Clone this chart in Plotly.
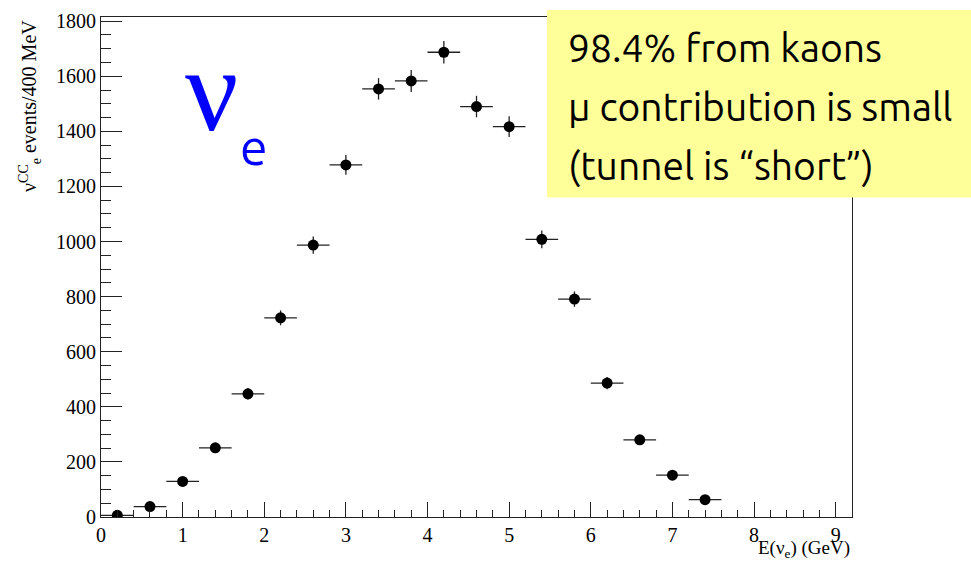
import plotly.graph_objects as go

# Data
energy = [0.2, 0.6, 1.0, 1.4, 1.8, 2.2, 2.6, 3.0, 3.4, 3.8, 4.2, 4.6, 5.0, 5.4, 5.8, 6.2, 6.6, 7.0, 7.4]
events = [6, 38, 129, 251, 447, 723, 987, 1278, 1554, 1583, 1687, 1490, 1417, 1008, 791, 486, 280, 152, 63]
err_events = [2, 6, 11, 16, 21, 27, 31, 36, 39, 40, 41, 39, 38, 32, 28, 22, 17, 12, 8]
half_bin = [0.2] * len(energy)

x_ticks = [0, 1, 2, 3, 4, 5, 6, 7, 8, 9]
y_ticks = [0, 200, 400, 600, 800, 1000, 1200, 1400, 1600, 1800]

box_lines = ["98.4% from kaons", "μ contribution is small", "(tunnel is “short”)"]

W, H = 971, 561
L, R, T, B = 101, 119, 10, 44
PW, PH = W - L - R, H - T - B


def px(xpix):
    return (xpix - L) / PW


def py(ypix):
    return (H - B - ypix) / PH


fig = go.Figure()
fig.add_trace(go.Scatter(
    x=energy, y=events, mode="markers",
    marker=dict(color="black", size=11, symbol="circle"),
    error_x=dict(type="data", array=half_bin, symmetric=True, width=0, thickness=1.3, color="#222"),
    error_y=dict(type="data", array=err_events, symmetric=True, width=0, thickness=1.3, color="#222"),
    showlegend=False, hoverinfo="x+y",
))

axis_common = dict(
    showgrid=False, zeroline=False, showline=True, linecolor="#222", linewidth=1,
    mirror=True, ticks="inside", tickcolor="#222", tickwidth=1,
    tickfont=dict(family="Liberation Serif", size=20, color="black"),
)

fig.update_xaxes(range=[0, 9.2], tickvals=x_ticks, ticktext=[str(v) for v in x_ticks], ticklen=15,
                 minor=dict(dtick=0.2, tick0=0, ticklen=7, ticks="inside", tickcolor="#222", showgrid=False),
                 **axis_common)
fig.update_yaxes(range=[0, 1815], tickvals=y_ticks, ticktext=[str(v) for v in y_ticks], ticklen=21,
                 minor=dict(dtick=50, tick0=0, ticklen=10, ticks="inside", tickcolor="#222", showgrid=False),
                 **axis_common)

# yellow box
fig.add_shape(type="rect", xref="paper", yref="paper",
              x0=px(547), x1=px(975), y0=py(193), y1=py(3),
              fillcolor="#FFFF99", line=dict(width=0), layer="above")

annos = []
line_y = [41, 101, 161]
for txt, yy in zip(box_lines, line_y):
    annos.append(dict(text=txt, xref="paper", yref="paper", x=px(566), y=py(yy),
                      xanchor="left", yanchor="middle", showarrow=False,
                      font=dict(family="Ubuntu Condensed, Liberation Sans Narrow, Ubuntu", size=39,
                                color="black")))

# big nu_e label
annos.append(dict(text="ν", xref="paper", yref="paper", x=px(211), y=py(85),
                  xanchor="center", yanchor="middle", showarrow=False,
                  font=dict(family="Liberation Serif", size=118, color="#0000FF")))
annos.append(dict(text="e", xref="paper", yref="paper", x=px(254), y=py(141),
                  xanchor="center", yanchor="middle", showarrow=False,
                  font=dict(family="Ubuntu Condensed, Ubuntu", size=50, color="#0000FF")))

# axis titles
annos.append(dict(text="ν<sup>CC</sup><sub>e</sub> events/400 MeV", xref="paper", yref="paper",
                  x=px(30), y=py(11), xanchor="center", yanchor="top", textangle=-90, showarrow=False,
                  font=dict(family="Liberation Serif", size=20, color="black")))
annos.append(dict(text="E(ν<sub>e</sub>) (GeV)", xref="paper", yref="paper",
                  x=px(852), y=py(549), xanchor="right", yanchor="middle", showarrow=False,
                  font=dict(family="Liberation Serif", size=19, color="black")))

fig.update_layout(width=W, height=H, margin=dict(l=L, r=R, t=T, b=B),
                  paper_bgcolor="white", plot_bgcolor="white", annotations=annos)

fig.write_html("out.html")
